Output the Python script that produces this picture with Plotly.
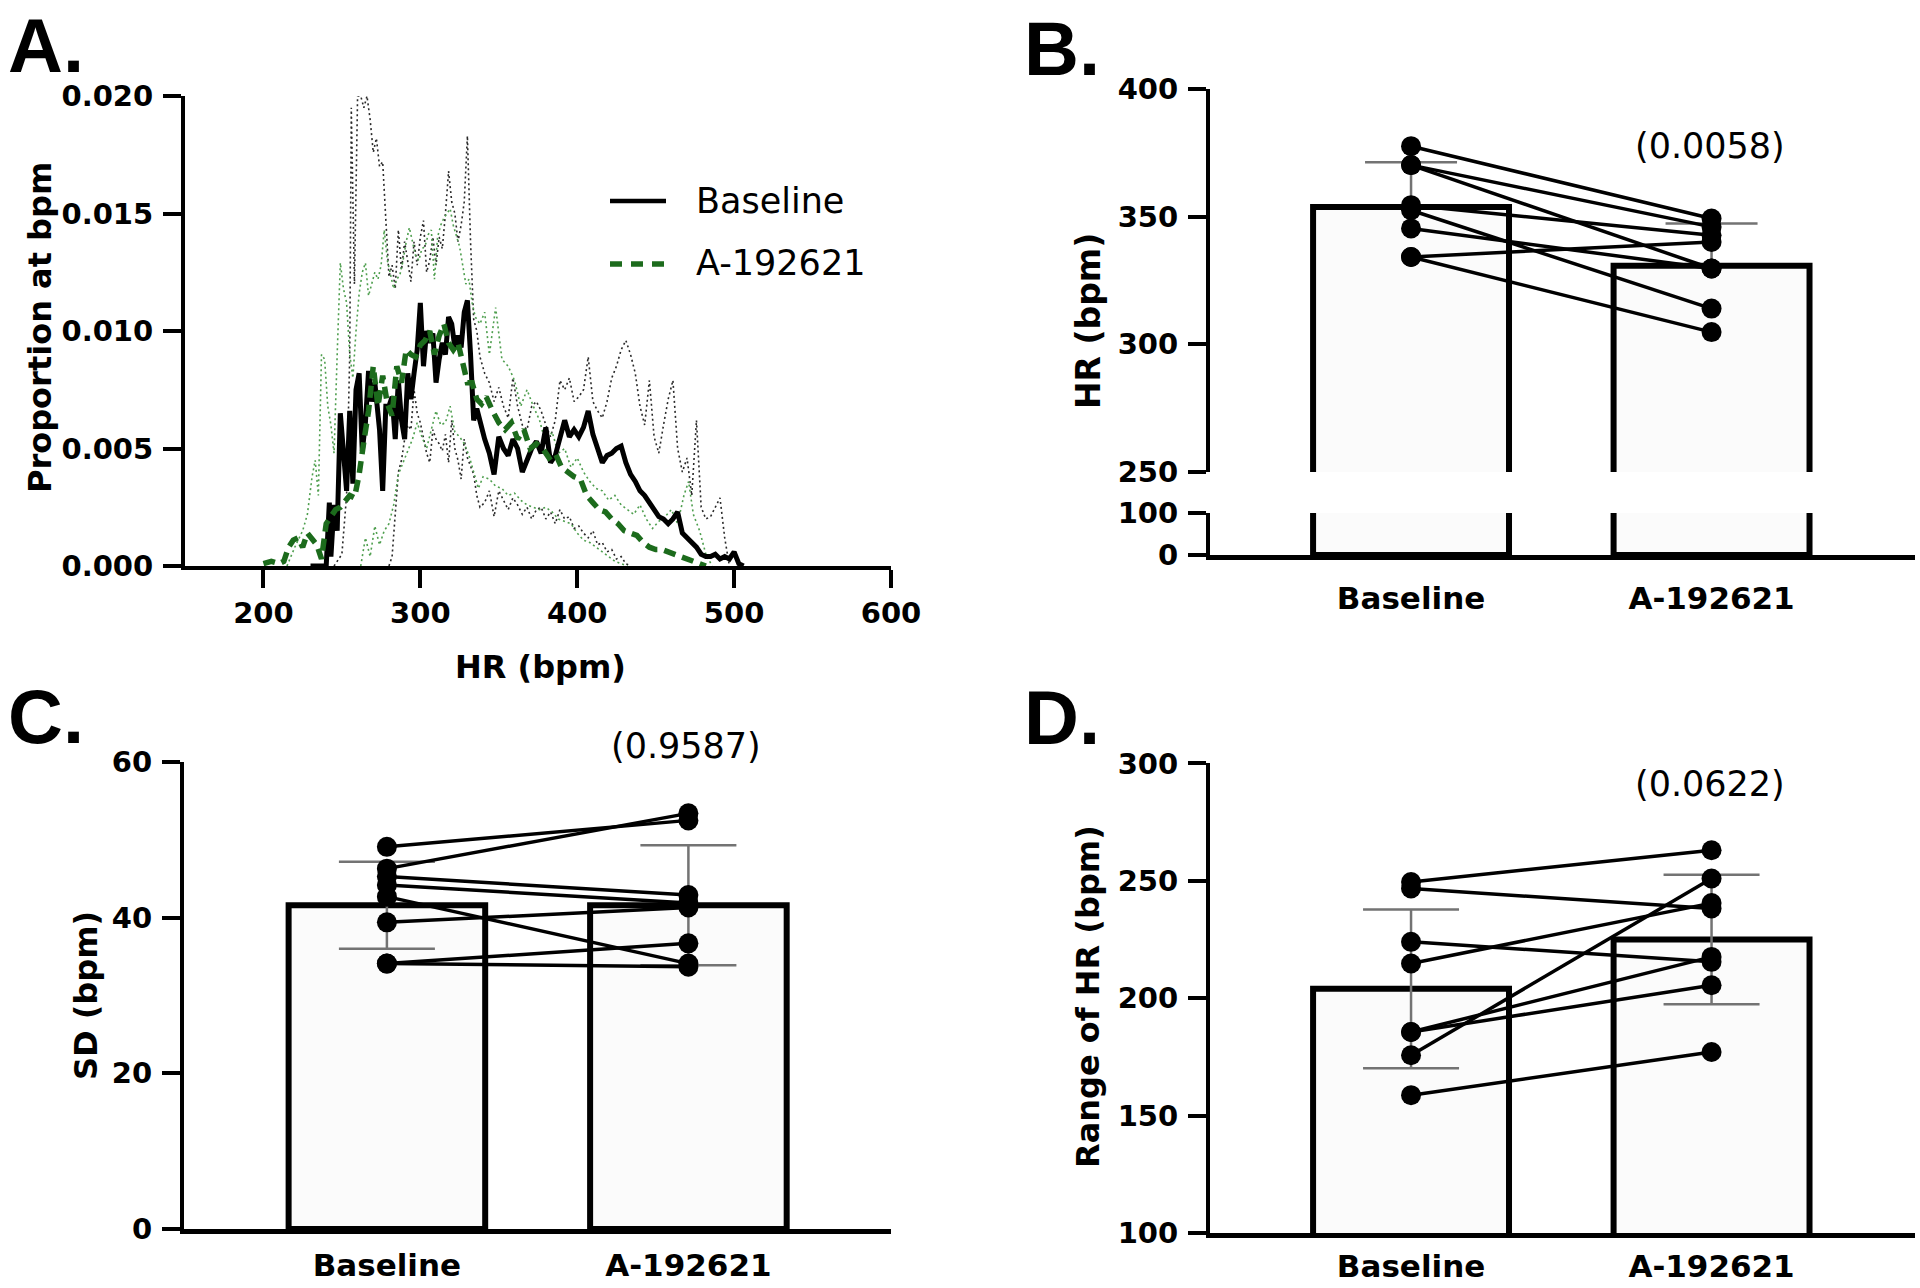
import plotly.graph_objects as go

W, H = 1920, 1288
FONT = "DejaVu Sans"

# ---------------- Panel A: HR distribution (proportion at bpm) ----------------
base_mean_hr = [230, 240, 242, 243, 245, 247, 249, 251, 253, 255,
                257, 259, 261, 263, 265, 267, 269, 271, 274, 276,
                278, 280, 282, 284, 286, 288, 290, 292, 294, 296,
                298, 300, 302, 304, 306, 308, 310, 312, 314, 316,
                318, 320, 322, 324, 326, 328, 330, 332, 334, 336,
                338, 341, 344, 347, 350, 353, 356, 359, 362, 365,
                368, 371, 374, 377, 380, 383, 386, 389, 392, 395,
                398, 401, 404, 407, 410, 413, 416, 419, 422, 425,
                428, 431, 434, 437, 440, 443, 446, 449, 452, 455,
                458, 461, 464, 467, 470, 473, 476, 479, 482, 485,
                488, 491, 494, 497, 500, 503, 506]
base_mean_p = [0.0, 0.0, 0.0027, 0.0004, 0.0026, 0.0015, 0.0065, 0.0050, 0.0032, 0.0066,
               0.0035, 0.0075, 0.0082, 0.0049, 0.0061, 0.0083, 0.0070, 0.0078, 0.0058, 0.0032,
               0.0068, 0.0068, 0.0072, 0.0054, 0.0079, 0.0062, 0.0054, 0.0082, 0.0071, 0.0082,
               0.0092, 0.0112, 0.0085, 0.0100, 0.0095, 0.0099, 0.0078, 0.0088, 0.0095, 0.0090,
               0.0106, 0.0103, 0.0093, 0.0098, 0.0093, 0.0108, 0.0113, 0.0090, 0.0062, 0.0067,
               0.0061, 0.0054, 0.0048, 0.0039, 0.0055, 0.0050, 0.0047, 0.0054, 0.0050, 0.0040,
               0.0045, 0.0050, 0.0053, 0.0048, 0.0059, 0.0044, 0.0047, 0.0054, 0.0062, 0.0055,
               0.0058, 0.0055, 0.0059, 0.0066, 0.0056, 0.0050, 0.0044, 0.0047, 0.0048, 0.0050,
               0.0051, 0.0044, 0.0039, 0.0036, 0.0032, 0.0030, 0.0027, 0.0024, 0.0021, 0.0020,
               0.0018, 0.0020, 0.0023, 0.0014, 0.0012, 0.0010, 0.0008, 0.0005, 0.0004, 0.0004,
               0.0005, 0.0003, 0.0004, 0.0003, 0.0006, 0.0001, 0.0]

drug_mean_hr = [200, 205, 210, 213, 216, 219, 222, 225, 228, 231,
                234, 237, 240, 243, 246, 249, 252, 255, 258, 261,
                264, 267, 270, 273, 276, 279, 282, 285, 288, 291,
                294, 297, 300, 303, 306, 309, 312, 315, 318, 321,
                324, 327, 330, 333, 336, 339, 342, 346, 350, 354,
                358, 362, 366, 370, 374, 378, 382, 386, 390, 394,
                398, 402, 406, 410, 414, 418, 422, 426, 430, 434,
                438, 442, 446, 450, 454, 458, 462, 466, 470, 474,
                478, 482]
drug_mean_p = [0.0001, 0.0002, 0.0001, 0.0002, 0.0008, 0.0011, 0.0012, 0.0008, 0.0014, 0.0011,
               0.0009, 0.0003, 0.0018, 0.0021, 0.0024, 0.0025, 0.0028, 0.0030, 0.0029, 0.0039,
               0.0053, 0.0066, 0.0085, 0.0068, 0.0081, 0.0069, 0.0064, 0.0085, 0.0078, 0.0092,
               0.0090, 0.0089, 0.0094, 0.0096, 0.0100, 0.0090, 0.0098, 0.0103, 0.0095, 0.0092,
               0.0095, 0.0086, 0.0078, 0.0078, 0.0071, 0.0069, 0.0072, 0.0066, 0.0061, 0.0058,
               0.0061, 0.0054, 0.0058, 0.0050, 0.0052, 0.0050, 0.0046, 0.0048, 0.0042, 0.0040,
               0.0038, 0.0037, 0.0030, 0.0027, 0.0024, 0.0023, 0.0020, 0.0018, 0.0015, 0.0014,
               0.0013, 0.0010, 0.0008, 0.0007, 0.0007, 0.0006, 0.0005, 0.0004, 0.0003, 0.0002,
               0.0001, 0.0]

base_hi_hr = [245, 250, 253, 255, 256, 258, 260, 262, 264, 266,
              268, 270, 272, 274, 276, 278, 280, 282, 284, 286,
              288, 290, 292, 294, 296, 298, 300, 302, 304, 306,
              308, 310, 312, 314, 316, 318, 320, 322, 324, 326,
              328, 330, 332, 334, 336, 338, 341, 344, 347, 350,
              353, 356, 359, 362, 365, 368, 371, 374, 377, 380,
              383, 386, 389, 392, 395, 398, 401, 404, 407, 410,
              413, 416, 419, 422, 425, 428, 431, 434, 437, 440,
              443, 446, 449, 452, 455, 458, 461, 464, 467, 470,
              473, 476, 479, 482, 485, 488, 491, 494, 497]
base_hi_p = [0.0, 0.0005, 0.0030, 0.0090, 0.0195, 0.0120, 0.0200, 0.0200, 0.0195, 0.0200,
             0.0190, 0.0176, 0.0182, 0.0170, 0.0172, 0.0149, 0.0123, 0.0128, 0.0118, 0.0143,
             0.0126, 0.0138, 0.0130, 0.0121, 0.0138, 0.0128, 0.0140, 0.0147, 0.0125, 0.0130,
             0.0140, 0.0128, 0.0140, 0.0135, 0.0150, 0.0168, 0.0155, 0.0150, 0.0138, 0.0145,
             0.0155, 0.0183, 0.0138, 0.0105, 0.0100, 0.0089, 0.0082, 0.0078, 0.0070, 0.0076,
             0.0068, 0.0063, 0.0080, 0.0068, 0.0060, 0.0058, 0.0068, 0.0070, 0.0066, 0.0060,
             0.0055, 0.0062, 0.0079, 0.0075, 0.0080, 0.0070, 0.0072, 0.0075, 0.0089, 0.0070,
             0.0066, 0.0063, 0.0070, 0.0080, 0.0085, 0.0092, 0.0096, 0.0090, 0.0082, 0.0068,
             0.0060, 0.0079, 0.0055, 0.0048, 0.0060, 0.0071, 0.0079, 0.0050, 0.0040, 0.0046,
             0.0030, 0.0062, 0.0025, 0.0020, 0.0021, 0.0025, 0.0029, 0.0012, 0.0]

base_lo_hr = [280, 282, 284, 286, 288, 290, 292, 294, 296, 298,
              300, 302, 304, 306, 308, 310, 312, 314, 316, 318,
              320, 322, 324, 326, 328, 330, 332, 334, 336, 338,
              341, 344, 347, 350, 353, 356, 359, 362, 365, 368,
              371, 374, 377, 380, 383, 386, 389, 392, 395, 398,
              401, 404, 407, 410, 413, 416, 419, 422, 425, 428,
              431, 434]
base_lo_p = [0.0, 0.0004, 0.0022, 0.0040, 0.0045, 0.0054, 0.0060, 0.0058, 0.0075, 0.0065,
             0.0061, 0.0054, 0.0048, 0.0044, 0.0058, 0.0054, 0.0052, 0.0049, 0.0056, 0.0044,
             0.0062, 0.0050, 0.0045, 0.0037, 0.0054, 0.0046, 0.0042, 0.0039, 0.0030, 0.0025,
             0.0027, 0.0032, 0.0021, 0.0032, 0.0028, 0.0024, 0.0029, 0.0026, 0.0022, 0.0025,
             0.0020, 0.0024, 0.0025, 0.0020, 0.0023, 0.0018, 0.0024, 0.0020, 0.0021, 0.0016,
             0.0017, 0.0014, 0.0012, 0.0015, 0.0009, 0.0010, 0.0006, 0.0007, 0.0003, 0.0004,
             0.0001, 0.0]

drug_hi_hr = [215, 220, 225, 228, 231, 233, 235, 237, 239, 241,
              243, 245, 247, 249, 251, 253, 255, 257, 259, 261,
              263, 265, 267, 269, 271, 273, 275, 277, 279, 281,
              283, 285, 287, 289, 291, 293, 295, 297, 299, 301,
              303, 305, 307, 309, 311, 313, 315, 317, 319, 321,
              323, 325, 327, 329, 331, 333, 335, 338, 341, 344,
              348, 352, 356, 360, 364, 368, 372, 376, 380, 384,
              388, 392, 396, 400, 404, 408, 412, 416, 420, 424,
              428, 432, 436, 440, 444, 448, 452, 456, 460, 464,
              468, 471, 474, 478, 482, 486]
drug_hi_p = [0.0, 0.0008, 0.0015, 0.0022, 0.0038, 0.0045, 0.0030, 0.0090, 0.0088, 0.0068,
             0.0060, 0.0048, 0.0090, 0.0129, 0.0118, 0.0112, 0.0090, 0.0080, 0.0100, 0.0116,
             0.0125, 0.0129, 0.0115, 0.0120, 0.0125, 0.0122, 0.0128, 0.0143, 0.0130, 0.0124,
             0.0118, 0.0122, 0.0124, 0.0130, 0.0138, 0.0144, 0.0138, 0.0132, 0.0130, 0.0135,
             0.0136, 0.0141, 0.0143, 0.0122, 0.0140, 0.0145, 0.0148, 0.0150, 0.0152, 0.0145,
             0.0140, 0.0136, 0.0128, 0.0120, 0.0122, 0.0112, 0.0106, 0.0103, 0.0108, 0.0090,
             0.0110, 0.0088, 0.0085, 0.0079, 0.0068, 0.0075, 0.0068, 0.0062, 0.0052, 0.0057,
             0.0048, 0.0050, 0.0042, 0.0046, 0.0040, 0.0036, 0.0033, 0.0032, 0.0028, 0.0030,
             0.0026, 0.0024, 0.0022, 0.0026, 0.0020, 0.0016, 0.0019, 0.0021, 0.0024, 0.0018,
             0.0030, 0.0036, 0.0022, 0.0015, 0.0005, 0.0]

drug_lo_hr = [262, 265, 268, 271, 274, 277, 280, 283, 286, 289,
              292, 295, 298, 301, 304, 307, 310, 313, 316, 319,
              322, 325, 328, 331, 334, 337, 340, 344, 348, 352,
              356, 360, 364, 368, 372, 376, 380, 384, 388, 392,
              396, 400, 404, 408, 412, 416, 420, 424, 428, 432]
drug_lo_p = [0.0, 0.0012, 0.0004, 0.0017, 0.0009, 0.0015, 0.0018, 0.0026, 0.0039, 0.0044,
             0.0049, 0.0054, 0.0061, 0.0055, 0.0050, 0.0058, 0.0066, 0.0060, 0.0061, 0.0068,
             0.0057, 0.0055, 0.0052, 0.0047, 0.0040, 0.0033, 0.0038, 0.0037, 0.0034, 0.0033,
             0.0030, 0.0031, 0.0028, 0.0026, 0.0025, 0.0024, 0.0025, 0.0023, 0.0020, 0.0019,
             0.0018, 0.0014, 0.0011, 0.0010, 0.0008, 0.0006, 0.0004, 0.0002, 0.0001, 0.0]

hist_xticks = [200, 300, 400, 500, 600]
hist_yticks = [0.000, 0.005, 0.010, 0.015, 0.020]
legend_names = ["Baseline", "A-192621"]

# ---------------- Panels B-D: paired data (8 animals) ----------------
categories = ["Baseline", "A-192621"]

hr_baseline = [377.6, 370.2, 370.2, 354.5, 352.5, 345.4, 334.2, 334.2]
hr_drug = [349.3, 346.0, 329.7, 342.7, 314.0, 329.7, 340.1, 304.8]
hr_mean = [353.8, 330.8]
hr_sd = [17.5, 16.5]
hr_upper_ticks = [250, 300, 350, 400]
hr_lower_ticks = [0, 100]

sd_baseline = [49.1, 46.3, 45.3, 44.2, 42.7, 39.4, 34.1, 34.1]
sd_drug = [52.5, 53.4, 42.9, 41.9, 34.1, 41.3, 36.7, 33.7]
sd_mean = [41.6, 41.6]
sd_sd = [5.6, 7.7]
sd_ticks = [0, 20, 40, 60]

rng_baseline = [249.5, 246.7, 224.0, 214.8, 185.6, 185.6, 175.7, 158.7]
rng_drug = [263.0, 238.2, 215.5, 240.5, 217.6, 205.5, 251.0, 177.1]
rng_mean = [204.0, 225.0]
rng_sd = [33.8, 27.6]
rng_ticks = [100, 150, 200, 250, 300]

p_values = ["(0.0058)", "(0.9587)", "(0.0622)"]


# ---------------- helpers ----------------
def fx(p):
    return p / W


def fy(p):
    return 1 - p / H


TICKFONT = dict(family=FONT, size=29, color="black", weight="bold")
CATFONT = dict(family=FONT, size=31, color="black", weight="bold")


def yax(dom, rng, tickvals, anchor, **kw):
    d = dict(domain=[fy(dom[1]), fy(dom[0])], range=rng, tickvals=tickvals, anchor=anchor,
             showline=True, linecolor="black", linewidth=4, ticks="outside", ticklen=18,
             tickwidth=4, tickcolor="black", showgrid=False, zeroline=False,
             tickfont=TICKFONT, fixedrange=True, ticklabelstandoff=4)
    d.update(kw)
    return d


def xcat(dom, rng, anchor, standoff, **kw):
    d = dict(domain=[fx(dom[0]), fx(dom[1])], range=rng, anchor=anchor,
             tickvals=[0, 1], ticktext=categories, showline=True, linecolor="black",
             linewidth=5, ticks="", showgrid=False, zeroline=False, tickfont=CATFONT,
             fixedrange=True, ticklabelstandoff=standoff)
    d.update(kw)
    return d


fig = go.Figure()

# ---- Panel A traces ----
dot_black = dict(color="#2a2a2a", width=1.6, dash="2px,3px")
dot_green = dict(color="#4f9f4f", width=1.6, dash="2px,3px")
fig.add_trace(go.Scatter(x=base_hi_hr, y=base_hi_p, mode="lines", line=dot_black,
                         showlegend=False, xaxis="x", yaxis="y"))
fig.add_trace(go.Scatter(x=base_lo_hr, y=base_lo_p, mode="lines", line=dot_black,
                         showlegend=False, xaxis="x", yaxis="y"))
fig.add_trace(go.Scatter(x=drug_hi_hr, y=drug_hi_p, mode="lines", line=dot_green,
                         showlegend=False, xaxis="x", yaxis="y"))
fig.add_trace(go.Scatter(x=drug_lo_hr, y=drug_lo_p, mode="lines", line=dot_green,
                         showlegend=False, xaxis="x", yaxis="y"))
fig.add_trace(go.Scatter(x=base_mean_hr, y=base_mean_p, mode="lines",
                         line=dict(color="black", width=5), name=legend_names[0],
                         showlegend=False, xaxis="x", yaxis="y"))
fig.add_trace(go.Scatter(x=drug_mean_hr, y=drug_mean_p, mode="lines",
                         line=dict(color="#1c6b1c", width=5.5, dash="12px,7px"),
                         name=legend_names[1], showlegend=False, xaxis="x", yaxis="y"))

# ---- bar panels ----
BAR_W = 0.652
ERR_COLOR = "#737373"


def bar_panel(means, sds, base_pts, drug_pts, xa, ya, symmetric=True):
    if symmetric:
        fig.add_trace(go.Bar(x=[0, 1], y=means, width=BAR_W, xaxis=xa, yaxis=ya,
                             marker=dict(color="#fbfbfb", line=dict(color="black", width=6)),
                             error_y=dict(type="data", array=sds, color=ERR_COLOR,
                                          thickness=2.5, width=48),
                             showlegend=False))
    else:
        # error bar (upward only): drawn first, bar drawn over its lower half
        fig.add_trace(go.Bar(x=[0, 1], y=means, width=BAR_W, xaxis=xa, yaxis=ya,
                             marker=dict(color="rgba(0,0,0,0)", line=dict(width=0)),
                             error_y=dict(type="data", array=sds, arrayminus=sds,
                                          symmetric=False, color=ERR_COLOR,
                                          thickness=2.5, width=46),
                             showlegend=False))
        fig.add_trace(go.Bar(x=[0, 1], y=means, width=BAR_W, xaxis=xa, yaxis=ya,
                             marker=dict(color="#fbfbfb", line=dict(color="black", width=6)),
                             showlegend=False))
    for b, d in zip(base_pts, drug_pts):
        fig.add_trace(go.Scatter(x=[0, 1], y=[b, d], mode="lines+markers", xaxis=xa, yaxis=ya,
                                 line=dict(color="black", width=3.5),
                                 marker=dict(color="black", size=20),
                                 cliponaxis=False, showlegend=False))


# Panel B lower segment (axis break) – bars only
fig.add_trace(go.Bar(x=[0, 1], y=hr_mean, width=BAR_W, xaxis="x2", yaxis="y2",
                     marker=dict(color="#fbfbfb", line=dict(color="black", width=6)),
                     showlegend=False))
# Panel B upper segment
bar_panel(hr_mean, hr_sd, hr_baseline, hr_drug, "x3", "y3", symmetric=False)
# Panel C
bar_panel(sd_mean, sd_sd, sd_baseline, sd_drug, "x4", "y4")
# Panel D
bar_panel(rng_mean, rng_sd, rng_baseline, rng_drug, "x5", "y5")

BX = (1210, 1915)
B_RANGE = [-0.669, 1.677]
C_RANGE = [-0.673, 1.672]

fig.update_layout(
    width=W, height=H, margin=dict(l=0, r=0, t=0, b=0, pad=0, autoexpand=False),
    paper_bgcolor="white", plot_bgcolor="rgba(0,0,0,0)",
    barmode="overlay", showlegend=False,
    font=dict(family=FONT, color="black"),
    # Panel A
    xaxis=dict(domain=[fx(185), fx(891)], range=[150, 600], tickvals=hist_xticks, anchor="y",
               showline=True, linecolor="black", linewidth=4, ticks="outside", ticklen=18,
               tickwidth=4, tickcolor="black", showgrid=False, zeroline=False,
               tickfont=TICKFONT, fixedrange=True, ticklabelstandoff=0),
    yaxis=yax((96, 566), [0, 0.020], hist_yticks, "x", tickformat=".3f"),
    # Panel B lower (0-100)
    xaxis2=xcat(BX, B_RANGE, "y2", 12),
    yaxis2=yax((513, 555), [0, 100], hr_lower_ticks, "x2"),
    # Panel B upper (250-400)
    xaxis3=dict(domain=[fx(BX[0]), fx(BX[1])], range=B_RANGE, anchor="y3", visible=False,
                fixedrange=True),
    yaxis3=yax((89, 472), [250, 400], hr_upper_ticks, "x3"),
    # Panel C
    xaxis4=xcat((184, 891), C_RANGE, "y4", 5),
    yaxis4=yax((762, 1229), [0, 60], sd_ticks, "x4"),
    # Panel D
    xaxis5=xcat(BX, B_RANGE, "y5", 2),
    yaxis5=yax((763.4, 1233), [100, 300], rng_ticks, "x5"),
)

ann = []


def text(x, y, s, size, bold=True, angle=0, xanchor="center", yanchor="middle", family=FONT):
    ann.append(dict(x=fx(x), y=fy(y), xref="paper", yref="paper", text=s, showarrow=False,
                    xanchor=xanchor, yanchor=yanchor, textangle=angle,
                    font=dict(family=family, size=size, color="black",
                              weight="bold" if bold else "normal")))


# panel letters
text(6, 1, "A.", 76, xanchor="left", yanchor="top", family="Liberation Sans")
text(1022, 4, "B.", 76, xanchor="left", yanchor="top", family="Liberation Sans")
text(6, 716, "C.", 76, xanchor="left", family="Liberation Sans")
text(1022, 717, "D.", 76, xanchor="left", family="Liberation Sans")

# axis titles
text(40, 328, "Proportion at bpm", 32, angle=-90)
text(540, 667, "HR (bpm)", 32)
text(1088, 321, "HR (bpm)", 33, angle=-90)
text(86, 996, "SD (bpm)", 32, angle=-90)
text(1088, 997, "Range of HR (bpm)", 32, angle=-90)

# p-values
text(1710, 146, p_values[0], 35, bold=False)
text(686, 746, p_values[1], 35, bold=False)
text(1710, 784, p_values[2], 35, bold=False)

# legend
text(694, 201, legend_names[0], 35, bold=False, xanchor="left")
text(694, 263, legend_names[1], 35, bold=False, xanchor="left")

fig.update_layout(annotations=ann)

fig.update_layout(shapes=[
    dict(type="line", xref="paper", yref="paper", x0=fx(610), x1=fx(666), y0=fy(201), y1=fy(201),
         line=dict(color="black", width=4.5)),
    dict(type="line", xref="paper", yref="paper", x0=fx(610), x1=fx(666), y0=fy(264), y1=fy(264),
         line=dict(color="#1c6b1c", width=5.5, dash="12px,9px")),
])

fig.write_html("out.html", config={"displayModeBar": False},
               post_script="document.body.style.margin='0px';"
                           "document.body.style.overflow='hidden';")
